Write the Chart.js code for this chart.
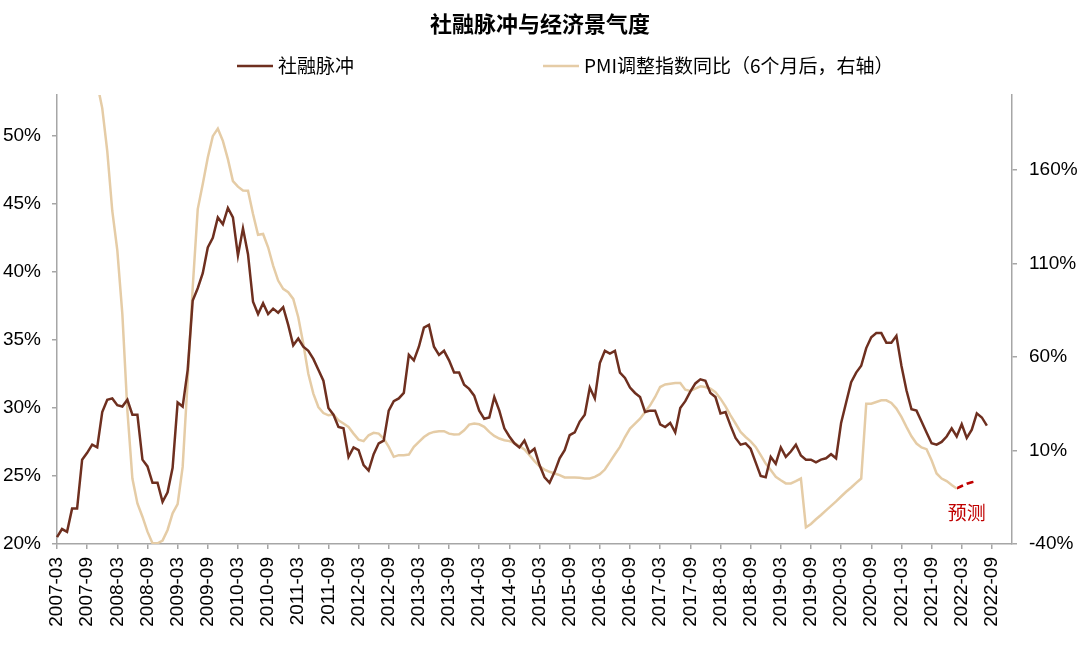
<!DOCTYPE html>
<html>
<head>
<meta charset="utf-8">
<script src="https://cdn.jsdelivr.net/npm/chart.js@4.4.0/dist/chart.umd.min.js"></script>
<style>
  html, body { margin: 0; padding: 0; background: #fff; }
</style>
</head>
<body>
<canvas id="chart" width="1080" height="650"></canvas>
<script>
// monthly categories, 2007-03 .. 2023-01
const startYear = 2007, startMonth = 3, monthCount = 191
const months = []
for (let i = 0; i < monthCount; i++) {
  const m = startMonth - 1 + i
  months.push((startYear + Math.floor(m / 12)) + '-' + String(m % 12 + 1).padStart(2, '0'))
}

// 社融脉冲 (left axis, %), 2007-03 .. 2022-08
const socialPulse = [
  20.5, 21.1, 20.9, 22.6, 22.6, 26.2, 26.7, 27.3, 27.1, 29.7,
  30.6, 30.7, 30.2, 30.1, 30.6, 29.5, 29.5, 26.2, 25.7, 24.5,
  24.5, 23.1, 23.8, 25.6, 30.4, 30.1, 32.8, 37.9, 38.8, 39.9,
  41.8, 42.5, 44.0, 43.5, 44.7, 44.0, 41.2, 43.2, 41.3, 37.8,
  36.9, 37.7, 36.9, 37.3, 37.0, 37.4, 36.1, 34.6, 35.1, 34.5,
  34.2, 33.6, 32.8, 32.0, 30.0, 29.5, 28.6, 28.5, 26.4, 27.1,
  26.9, 25.8, 25.4, 26.6, 27.4, 27.6, 29.8, 30.5, 30.7, 31.1,
  33.9, 33.5, 34.5, 35.9, 36.1, 34.5, 33.9, 34.2, 33.5, 32.6,
  32.6, 31.7, 31.4, 30.9, 29.8, 29.2, 29.3, 30.8, 29.8, 28.5,
  27.9, 27.4, 27.1, 27.6, 26.7, 27.0, 25.8, 24.9, 24.5, 25.3,
  26.3, 26.9, 28.0, 28.2, 29.0, 29.5, 31.5, 30.7, 33.3, 34.2,
  34.0, 34.2, 32.6, 32.2, 31.5, 31.1, 30.8, 29.7, 29.8, 29.8,
  28.8, 28.6, 28.9, 28.2, 30.0, 30.5, 31.2, 31.8, 32.1, 32.0,
  31.1, 30.8, 29.6, 29.7, 28.7, 27.8, 27.3, 27.4, 27.0, 26.0,
  25.0, 24.9, 26.4, 25.9, 27.1, 26.4, 26.8, 27.3, 26.5, 26.2,
  26.2, 26.0, 26.2, 26.3, 26.6, 26.3, 28.9, 30.4, 31.9, 32.6,
  33.1, 34.4, 35.2, 35.5, 35.5, 34.8, 34.8, 35.3, 33.1, 31.3,
  29.9, 29.8, 29.0, 28.2, 27.4, 27.3, 27.5, 27.9, 28.5, 27.9,
  28.8, 27.8, 28.4, 29.6, 29.3, 28.7
]

// PMI调整指数同比, 6 months ahead (right axis, %), 2007-03 .. 2022-02
const pmiYoY = [
  null, null, null, null, null, null, null, 222, 206, 193,
  170, 138, 117, 83, 31.5, -5, -18.3, -25.4, -33.4, -39.6,
  -39.6, -38.2, -32.5, -23.6, -18.7, 1.2, 47.5, 97.2, 139, 152.4,
  166.6, 178, 182, 175.5, 165.7, 154, 151, 149, 148.8, 136.4,
  125.3, 125.7, 118.6, 108.8, 100.8, 96.4, 94.6, 91, 81.2, 67,
  51, 40.4, 33.2, 30, 28.8, 29.2, 26.1, 24.4, 22.6, 19,
  15.8, 15, 18.1, 19.4, 19, 16.4, 11.9, 6.6, 7.5, 7.5,
  7.8, 11.9, 14.6, 17.2, 19, 19.9, 20.3, 20.3, 19, 18.5,
  18.7, 20.8, 23.8, 24.4, 24, 22.6, 19.9, 17.8, 16.4, 15.5,
  15, 14, 12.4, 10.5, 7.5, 4.3, 1.6, -0.2, -1.4, -2.3,
  -3.2, -4.4, -4.4, -4.4, -4.6, -5, -5, -4.1, -2.7, -0.2,
  3.9, 8, 11.9, 17.2, 21.7, 24.4, 27, 30.6, 34.1, 38.6,
  43.9, 45.3, 45.7, 46, 46, 42.5, 41.8, 43, 44.3, 43.9,
  43, 41.2, 37.7, 33.6, 28.8, 24.4, 19.9, 17.2, 14.9, 11.9,
  7.5, 3, -0.5, -4.1, -5.9, -7.6, -7.6, -6.4, -5, -31.1,
  -29.3, -26.8, -24.5, -22, -19.6, -17.2, -14.6, -12.1, -9.8, -7.3,
  -5, 35, 35, 35.9, 36.8, 36.8, 35.4, 32.4, 27.9, 22.6,
  17.6, 13.7, 11.6, 10.7, 4.8, -2.3, -5, -6.4, -8.5, -10.3
]

// forecast
const forecastMonths = ['2022-02', '2022-03', '2022-04', '2022-05', '2022-06']
const forecastValues = [-10.3, -9.0, -7.8, -7.0, -6.4]
const forecastNote = { text: '预测', month: '2022-04', value: -23.5 }

const leftTicks = [20, 25, 30, 35, 40, 45, 50]
const rightTicks = [-40, 10, 60, 110, 160]

const axisGrey = '#A6A6A6'
const numFont = { family: '"Liberation Sans", Arial, sans-serif', size: 19 }
const cjkFont = '"Noto Sans CJK SC", "Noto Sans", sans-serif'

// legend drawn as two widely spaced items, like the source
const legendSpots = [237, 543]
const legendPlugin = {
  id: 'wideLegend',
  afterDraw(chart) {
    const ctx = chart.ctx
    ctx.save()
    ctx.font = '19px ' + cjkFont
    ctx.textBaseline = 'middle'
    ctx.fillStyle = '#000'
    legendSpots.forEach((x, i) => {
      const ds = chart.data.datasets[i]
      const y = 66
      ctx.strokeStyle = ds.borderColor
      ctx.lineWidth = ds.borderWidth
      ctx.beginPath()
      ctx.moveTo(x, y)
      ctx.lineTo(x + 36, y)
      ctx.stroke()
      ctx.fillText(ds.label, x + 41, y)
    })
    ctx.restore()
  }
}

const notePlugin = {
  id: 'forecastNote',
  afterDatasetsDraw(chart) {
    const { ctx, scales } = chart
    const x = scales.x.getPixelForValue(months.indexOf(forecastNote.month))
    const y = scales.y1.getPixelForValue(forecastNote.value)
    ctx.save()
    ctx.font = '19px ' + cjkFont
    ctx.fillStyle = '#C00000'
    ctx.textAlign = 'center'
    ctx.textBaseline = 'middle'
    ctx.fillText(forecastNote.text, x, y)
    ctx.restore()
  }
}

new Chart(document.getElementById('chart').getContext('2d'), {
  type: 'line',
  data: {
    labels: months,
    datasets: [
      {
        label: '社融脉冲',
        data: socialPulse,
        yAxisID: 'y',
        borderColor: '#6E2F1F',
        borderWidth: 2.5
      },
      {
        label: 'PMI调整指数同比（6个月后，右轴）',
        data: pmiYoY,
        yAxisID: 'y1',
        borderColor: '#E5CCA6',
        borderWidth: 2.5
      },
      {
        label: '预测',
        data: forecastMonths.map((m, k) => ({ x: m, y: forecastValues[k] })),
        yAxisID: 'y1',
        borderColor: '#C00000',
        borderWidth: 2.5,
        borderDash: [7, 4]
      }
    ]
  },
  options: {
    responsive: false,
    animation: false,
    devicePixelRatio: 1,
    elements: {
      point: { radius: 0 },
      line: { tension: 0, borderCapStyle: 'butt' }
    },
    plugins: {
      legend: { display: false },
      tooltip: { enabled: false },
      title: {
        display: true,
        text: '社融脉冲与经济景气度',
        color: '#000',
        font: { family: cjkFont, size: 22, weight: 'bold' },
        padding: { top: 10, bottom: 58.6 }
      }
    },
    scales: {
      x: {
        type: 'category',
        afterBuildTicks: s => { s.ticks = s.ticks.filter(t => t.value % 6 === 0) },
        afterFit: s => { s.height = 106 },
        ticks: {
          autoSkip: false,
          minRotation: 90,
          maxRotation: 90,
          padding: 8,
          color: '#000',
          font: numFont
        },
        grid: { drawOnChartArea: false, drawTicks: true, tickLength: 5, color: axisGrey, lineWidth: 1.5 },
        border: { color: axisGrey, width: 1.5 }
      },
      y: {
        position: 'left',
        min: 20,
        max: 53,
        afterBuildTicks: s => { s.ticks = leftTicks.map(v => ({ value: v })) },
        afterFit: s => { s.width = 57 },
        ticks: { callback: v => v + '%', padding: 11, color: '#000', font: numFont },
        grid: { drawOnChartArea: false, drawTicks: true, tickLength: 5, color: axisGrey, lineWidth: 1.5 },
        border: { color: axisGrey, width: 1.5 }
      },
      y1: {
        position: 'right',
        min: -40,
        max: 200,
        afterBuildTicks: s => { s.ticks = rightTicks.map(v => ({ value: v })) },
        afterFit: s => { s.width = 68 },
        ticks: { callback: v => v + '%', padding: 12, color: '#000', font: numFont },
        grid: { drawOnChartArea: false, drawTicks: true, tickLength: 5, color: axisGrey, lineWidth: 1.5 },
        border: { color: axisGrey, width: 1.5 }
      }
    }
  },
  plugins: [legendPlugin, notePlugin]
})
</script>
</body>
</html>
